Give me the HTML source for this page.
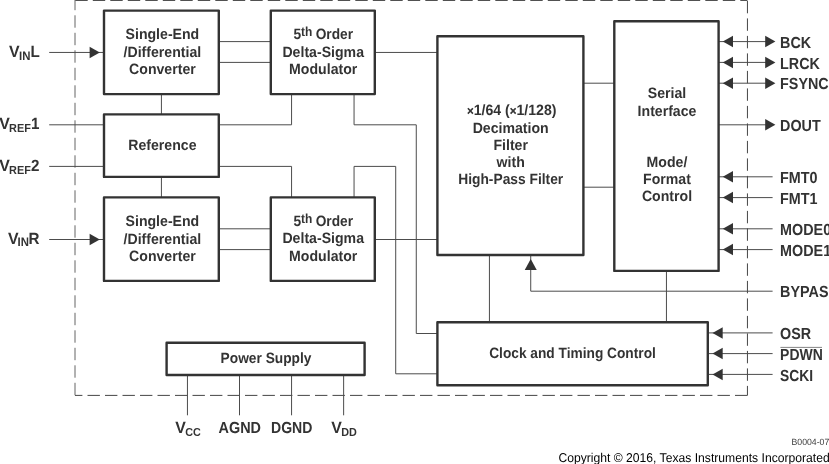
<!DOCTYPE html>
<html lang="en"><head><meta charset="utf-8"><title>Block Diagram</title>
<style>
html,body{margin:0;padding:0;background:#fff;}
svg{display:block;will-change:transform;text-rendering:geometricPrecision;font-family:"Liberation Sans",Arial,Helvetica,sans-serif;}
</style></head><body>
<svg width="829" height="464" viewBox="0 0 829 464">
<rect x="0" y="0" width="829" height="464" fill="#fff"/>
<path d="M75.3 0.45 H747.4" fill="none" stroke="#3c3c3c" stroke-width="0.95" stroke-dasharray="12.4 5.1"/>
<path d="M747.45 0.9 V395.4" fill="none" stroke="#3c3c3c" stroke-width="0.95" stroke-dasharray="12.4 5.1"/>
<path d="M747.4 395.4 H75" fill="none" stroke="#3c3c3c" stroke-width="0.95" stroke-dasharray="12.4 5.1"/>
<path d="M75.0 395.2 V0" fill="none" stroke="#3c3c3c" stroke-width="0.8" stroke-dasharray="12.4 5.1"/>
<path d="M49.20 52.45 L104.00 52.45" fill="none" stroke="#4c4c4c" stroke-width="1.0"/>
<path d="M219.00 41.60 L271.00 41.60" fill="none" stroke="#4c4c4c" stroke-width="1.0"/>
<path d="M219.00 62.40 L271.00 62.40" fill="none" stroke="#4c4c4c" stroke-width="1.0"/>
<path d="M375.00 52.45 L437.00 52.45" fill="none" stroke="#4c4c4c" stroke-width="1.0"/>
<path d="M49.20 124.80 L104.00 124.80" fill="none" stroke="#4c4c4c" stroke-width="1.0"/>
<path d="M49.20 166.40 L104.00 166.40" fill="none" stroke="#4c4c4c" stroke-width="1.0"/>
<path d="M161.41 94.00 L161.41 114.00" fill="none" stroke="#4c4c4c" stroke-width="1.0"/>
<path d="M161.41 177.00 L161.41 197.00" fill="none" stroke="#4c4c4c" stroke-width="1.0"/>
<path d="M219.00 124.80 L291.57 124.80 L291.57 94.00" fill="none" stroke="#4c4c4c" stroke-width="1.0"/>
<path d="M219.00 166.40 L291.57 166.40 L291.57 197.00" fill="none" stroke="#4c4c4c" stroke-width="1.0"/>
<path d="M354.05 94.00 L354.05 124.80 L416.28 124.80 L416.28 333.50 L437.00 333.50" fill="none" stroke="#4c4c4c" stroke-width="1.0"/>
<path d="M354.05 197.00 L354.05 166.40 L395.71 166.40 L395.71 373.80 L437.00 373.80" fill="none" stroke="#4c4c4c" stroke-width="1.0"/>
<path d="M49.20 239.50 L104.00 239.50" fill="none" stroke="#4c4c4c" stroke-width="1.0"/>
<path d="M219.00 228.80 L271.00 228.80" fill="none" stroke="#4c4c4c" stroke-width="1.0"/>
<path d="M219.00 249.60 L271.00 249.60" fill="none" stroke="#4c4c4c" stroke-width="1.0"/>
<path d="M375.00 239.50 L437.00 239.50" fill="none" stroke="#4c4c4c" stroke-width="1.0"/>
<path d="M584.00 83.20 L614.00 83.20" fill="none" stroke="#4c4c4c" stroke-width="1.0"/>
<path d="M584.00 187.20 L614.00 187.20" fill="none" stroke="#4c4c4c" stroke-width="1.0"/>
<path d="M489.43 255.00 L489.43 322.00" fill="none" stroke="#4c4c4c" stroke-width="1.0"/>
<path d="M666.45 271.00 L666.45 322.00" fill="none" stroke="#4c4c4c" stroke-width="1.0"/>
<path d="M530.73 255.00 L530.73 291.20 L772.60 291.20" fill="none" stroke="#4c4c4c" stroke-width="1.0"/>
<path d="M719.00 41.60 L772.00 41.60" fill="none" stroke="#4c4c4c" stroke-width="1.0"/>
<path d="M719.00 62.40 L772.00 62.40" fill="none" stroke="#4c4c4c" stroke-width="1.0"/>
<path d="M719.00 83.20 L772.00 83.20" fill="none" stroke="#4c4c4c" stroke-width="1.0"/>
<path d="M719.00 124.80 L772.00 124.80" fill="none" stroke="#4c4c4c" stroke-width="1.0"/>
<path d="M719.00 176.80 L772.60 176.80" fill="none" stroke="#4c4c4c" stroke-width="1.0"/>
<path d="M719.00 197.60 L772.60 197.60" fill="none" stroke="#4c4c4c" stroke-width="1.0"/>
<path d="M719.00 228.80 L772.60 228.80" fill="none" stroke="#4c4c4c" stroke-width="1.0"/>
<path d="M719.00 249.60 L772.60 249.60" fill="none" stroke="#4c4c4c" stroke-width="1.0"/>
<path d="M708.00 332.90 L772.60 332.90" fill="none" stroke="#4c4c4c" stroke-width="1.0"/>
<path d="M708.00 353.60 L772.60 353.60" fill="none" stroke="#4c4c4c" stroke-width="1.0"/>
<path d="M708.00 374.40 L772.60 374.40" fill="none" stroke="#4c4c4c" stroke-width="1.0"/>
<path d="M187.44 375.00 L187.44 415.30" fill="none" stroke="#4c4c4c" stroke-width="1.0"/>
<path d="M239.51 375.00 L239.51 415.30" fill="none" stroke="#4c4c4c" stroke-width="1.0"/>
<path d="M291.57 375.00 L291.57 415.30" fill="none" stroke="#4c4c4c" stroke-width="1.0"/>
<path d="M343.64 375.00 L343.64 415.30" fill="none" stroke="#4c4c4c" stroke-width="1.0"/>
<rect x="104.00" y="10.60" width="114.80" height="83.50" fill="#fff" stroke="#333" stroke-width="2.4" stroke-linejoin="round"/>
<rect x="270.80" y="10.60" width="104.00" height="83.50" fill="#fff" stroke="#333" stroke-width="2.4" stroke-linejoin="round"/>
<rect x="104.00" y="114.40" width="114.80" height="62.50" fill="#fff" stroke="#333" stroke-width="2.4" stroke-linejoin="round"/>
<rect x="104.00" y="197.40" width="114.80" height="83.50" fill="#fff" stroke="#333" stroke-width="2.4" stroke-linejoin="round"/>
<rect x="270.80" y="197.40" width="104.00" height="83.50" fill="#fff" stroke="#333" stroke-width="2.4" stroke-linejoin="round"/>
<rect x="437.40" y="36.20" width="146.00" height="218.80" fill="#fff" stroke="#333" stroke-width="2.4" stroke-linejoin="round"/>
<rect x="614.30" y="21.20" width="104.30" height="249.70" fill="#fff" stroke="#333" stroke-width="2.4" stroke-linejoin="round"/>
<rect x="437.40" y="322.20" width="270.40" height="63.00" fill="#fff" stroke="#333" stroke-width="2.4" stroke-linejoin="round"/>
<rect x="166.60" y="342.70" width="198.00" height="32.30" fill="#fff" stroke="#333" stroke-width="2.4" stroke-linejoin="round"/>
<polygon points="99.80,52.45 89.60,46.70 89.60,58.20" fill="#333"/>
<polygon points="99.80,239.50 89.60,233.75 89.60,245.25" fill="#333"/>
<polygon points="722.80,41.60 733.00,35.85 733.00,47.35" fill="#333"/>
<polygon points="775.40,41.60 765.20,35.85 765.20,47.35" fill="#333"/>
<polygon points="722.80,62.40 733.00,56.65 733.00,68.15" fill="#333"/>
<polygon points="775.40,62.40 765.20,56.65 765.20,68.15" fill="#333"/>
<polygon points="722.80,83.20 733.00,77.45 733.00,88.95" fill="#333"/>
<polygon points="775.40,83.20 765.20,77.45 765.20,88.95" fill="#333"/>
<polygon points="775.40,124.80 765.20,119.05 765.20,130.55" fill="#333"/>
<polygon points="722.80,176.80 733.00,171.05 733.00,182.55" fill="#333"/>
<polygon points="722.80,197.60 733.00,191.85 733.00,203.35" fill="#333"/>
<polygon points="722.80,228.80 733.00,223.05 733.00,234.55" fill="#333"/>
<polygon points="722.80,249.60 733.00,243.85 733.00,255.35" fill="#333"/>
<polygon points="712.50,332.90 722.70,327.15 722.70,338.65" fill="#333"/>
<polygon points="712.50,353.60 722.70,347.85 722.70,359.35" fill="#333"/>
<polygon points="712.50,374.40 722.70,368.65 722.70,380.15" fill="#333"/>
<polygon points="530.73,259.10 524.73,269.90 536.73,269.90" fill="#333"/>
<text transform="translate(162.40 39.20) scale(1.008 1.065)" text-anchor="middle" font-size="14" font-weight="bold" fill="#333" >Single-End</text>
<text transform="translate(162.40 57.20) scale(1.008 1.065)" text-anchor="middle" font-size="14" font-weight="bold" fill="#333" >/Differential</text>
<text transform="translate(162.40 74.20) scale(1.008 1.065)" text-anchor="middle" font-size="14" font-weight="bold" fill="#333" >Converter</text>
<text transform="translate(323.20 39.20) scale(0.98 1.065)" text-anchor="middle" font-size="14" font-weight="bold" fill="#333">5<tspan font-size="12.2" dy="-2.8">th</tspan><tspan dy="2.8" dx="-0.5"> Order</tspan></text>
<text transform="translate(323.20 56.80) scale(1.008 1.065)" text-anchor="middle" font-size="14" font-weight="bold" fill="#333" >Delta-Sigma</text>
<text transform="translate(323.20 74.20) scale(1.008 1.065)" text-anchor="middle" font-size="14" font-weight="bold" fill="#333" >Modulator</text>
<text transform="translate(162.40 225.80) scale(1.008 1.065)" text-anchor="middle" font-size="14" font-weight="bold" fill="#333" >Single-End</text>
<text transform="translate(162.40 243.60) scale(1.008 1.065)" text-anchor="middle" font-size="14" font-weight="bold" fill="#333" >/Differential</text>
<text transform="translate(162.40 260.80) scale(1.008 1.065)" text-anchor="middle" font-size="14" font-weight="bold" fill="#333" >Converter</text>
<text transform="translate(323.20 225.80) scale(0.98 1.065)" text-anchor="middle" font-size="14" font-weight="bold" fill="#333">5<tspan font-size="12.2" dy="-2.8">th</tspan><tspan dy="2.8" dx="-0.5"> Order</tspan></text>
<text transform="translate(323.20 243.20) scale(1.008 1.065)" text-anchor="middle" font-size="14" font-weight="bold" fill="#333" >Delta-Sigma</text>
<text transform="translate(323.20 260.80) scale(1.008 1.065)" text-anchor="middle" font-size="14" font-weight="bold" fill="#333" >Modulator</text>
<text transform="translate(162.40 149.80) scale(1.008 1.065)" text-anchor="middle" font-size="14" font-weight="bold" fill="#333" >Reference</text>
<text transform="translate(511.70 115.10) scale(1.008 1.065)" text-anchor="middle" font-size="14" font-weight="bold" fill="#333" ><tspan font-size="11.5" font-weight="normal" stroke="#333" stroke-width="0.65">×</tspan>1/64 (<tspan font-size="11.5" font-weight="normal" stroke="#333" stroke-width="0.65">×</tspan>1/128)</text>
<text transform="translate(510.70 132.50) scale(1.008 1.065)" text-anchor="middle" font-size="14" font-weight="bold" fill="#333" >Decimation</text>
<text transform="translate(510.70 149.60) scale(1.008 1.065)" text-anchor="middle" font-size="14" font-weight="bold" fill="#333" >Filter</text>
<text transform="translate(510.70 166.90) scale(1.008 1.065)" text-anchor="middle" font-size="14" font-weight="bold" fill="#333" >with</text>
<text transform="translate(510.70 183.60) scale(0.985 1.065)" text-anchor="middle" font-size="14" font-weight="bold" fill="#333" >High-Pass Filter</text>
<text transform="translate(667.00 98.10) scale(1.008 1.065)" text-anchor="middle" font-size="14" font-weight="bold" fill="#333" >Serial</text>
<text transform="translate(667.00 115.50) scale(1.008 1.065)" text-anchor="middle" font-size="14" font-weight="bold" fill="#333" >Interface</text>
<text transform="translate(667.00 166.90) scale(1.008 1.065)" text-anchor="middle" font-size="14" font-weight="bold" fill="#333" >Mode/</text>
<text transform="translate(667.00 184.20) scale(1.008 1.065)" text-anchor="middle" font-size="14" font-weight="bold" fill="#333" >Format</text>
<text transform="translate(667.00 201.20) scale(1.008 1.065)" text-anchor="middle" font-size="14" font-weight="bold" fill="#333" >Control</text>
<text transform="translate(572.50 358.40) scale(0.98 1.065)" text-anchor="middle" font-size="14" font-weight="bold" fill="#333" >Clock and Timing Control</text>
<text transform="translate(266.00 363.10) scale(0.981 1.065)" text-anchor="middle" font-size="14" font-weight="bold" fill="#333" >Power Supply</text>
<text transform="translate(9.00 57.00) scale(1.045 1.07)" font-size="15.2" font-weight="bold" fill="#333">V</text>
<text transform="translate(19.10 57.00) scale(1.0 1.07)" font-size="15.2" font-weight="bold" fill="#333"><tspan font-size="11.4" dy="2.7">IN</tspan><tspan dy="-2.7" dx="0">L</tspan></text>
<text transform="translate(-0.70 129.20) scale(1.045 1.07)" font-size="15.2" font-weight="bold" fill="#333">V</text>
<text transform="translate(9.10 129.20) scale(1.0 1.07)" font-size="15.2" font-weight="bold" fill="#333"><tspan font-size="10.9" dy="2.7">REF</tspan><tspan dy="-2.7" dx="0">1</tspan></text>
<text transform="translate(-0.70 170.80) scale(1.045 1.07)" font-size="15.2" font-weight="bold" fill="#333">V</text>
<text transform="translate(9.10 170.80) scale(1.0 1.07)" font-size="15.2" font-weight="bold" fill="#333"><tspan font-size="10.9" dy="2.7">REF</tspan><tspan dy="-2.7" dx="0">2</tspan></text>
<text transform="translate(8.00 243.50) scale(1.045 1.07)" font-size="15.2" font-weight="bold" fill="#333">V</text>
<text transform="translate(17.60 243.50) scale(1.0 1.07)" font-size="15.2" font-weight="bold" fill="#333"><tspan font-size="11.4" dy="2.7">IN</tspan><tspan dy="-2.7" dx="-0.6">R</tspan></text>
<text transform="translate(780.10 48.30) scale(1.025 1.14)" text-anchor="start" font-size="14" font-weight="bold" fill="#333" >BCK</text>
<text transform="translate(780.10 68.80) scale(1.025 1.14)" text-anchor="start" font-size="14" font-weight="bold" fill="#333" >LRCK</text>
<text transform="translate(780.10 89.30) scale(1.025 1.14)" text-anchor="start" font-size="14" font-weight="bold" fill="#333" >FSYNC</text>
<text transform="translate(780.10 131.10) scale(1.025 1.14)" text-anchor="start" font-size="14" font-weight="bold" fill="#333" >DOUT</text>
<text transform="translate(780.10 182.80) scale(1.025 1.14)" text-anchor="start" font-size="14" font-weight="bold" fill="#333" >FMT0</text>
<text transform="translate(780.10 203.50) scale(1.025 1.14)" text-anchor="start" font-size="14" font-weight="bold" fill="#333" >FMT1</text>
<text transform="translate(780.10 234.80) scale(1.025 1.14)" text-anchor="start" font-size="14" font-weight="bold" fill="#333" >MODE0</text>
<text transform="translate(780.10 255.50) scale(1.025 1.14)" text-anchor="start" font-size="14" font-weight="bold" fill="#333" >MODE1</text>
<text transform="translate(780.10 296.80) scale(1.025 1.14)" text-anchor="start" font-size="14" font-weight="bold" fill="#333" >BYPAS</text>
<text transform="translate(780.10 338.80) scale(1.025 1.14)" text-anchor="start" font-size="14" font-weight="bold" fill="#333" >OSR</text>
<text transform="translate(780.10 359.60) scale(0.998 1.14)" text-anchor="start" font-size="14" font-weight="bold" fill="#333" >PDWN</text>
<text transform="translate(780.10 380.60) scale(0.988 1.14)" text-anchor="start" font-size="14" font-weight="bold" fill="#333" >SCKI</text>
<path d="M780.40 347.40 L822.00 347.40" fill="none" stroke="#666" stroke-width="0.8"/>
<text transform="translate(175.20 432.50) scale(1.045 1.07)" font-size="15.2" font-weight="bold" fill="#333">V</text>
<text transform="translate(185.20 432.50) scale(1.0 1.07)" font-size="15.2" font-weight="bold" fill="#333"><tspan font-size="10.8" dy="2.9">CC</tspan><tspan dy="-2.9" dx="0"></tspan></text>
<text transform="translate(218.50 432.50) scale(1.03 1.14)" text-anchor="start" font-size="14" font-weight="bold" fill="#333" >AGND</text>
<text transform="translate(271.00 432.50) scale(1.005 1.14)" text-anchor="start" font-size="14" font-weight="bold" fill="#333" >DGND</text>
<text transform="translate(331.20 432.50) scale(1.045 1.07)" font-size="15.2" font-weight="bold" fill="#333">V</text>
<text transform="translate(341.20 432.50) scale(1.0 1.07)" font-size="15.2" font-weight="bold" fill="#333"><tspan font-size="10.8" dy="2.9">DD</tspan><tspan dy="-2.9" dx="0"></tspan></text>
<text transform="translate(829.30 444.90) scale(1.025 1.065)" text-anchor="end" font-size="8.5" font-weight="normal" fill="#3a3a3a" >B0004-07</text>
<text transform="translate(558.40 461.90) scale(1.012 1.065)" text-anchor="start" font-size="12" font-weight="normal" fill="#000" >Copyright © 2016, Texas Instruments Incorporated</text>
</svg>
</body></html>
